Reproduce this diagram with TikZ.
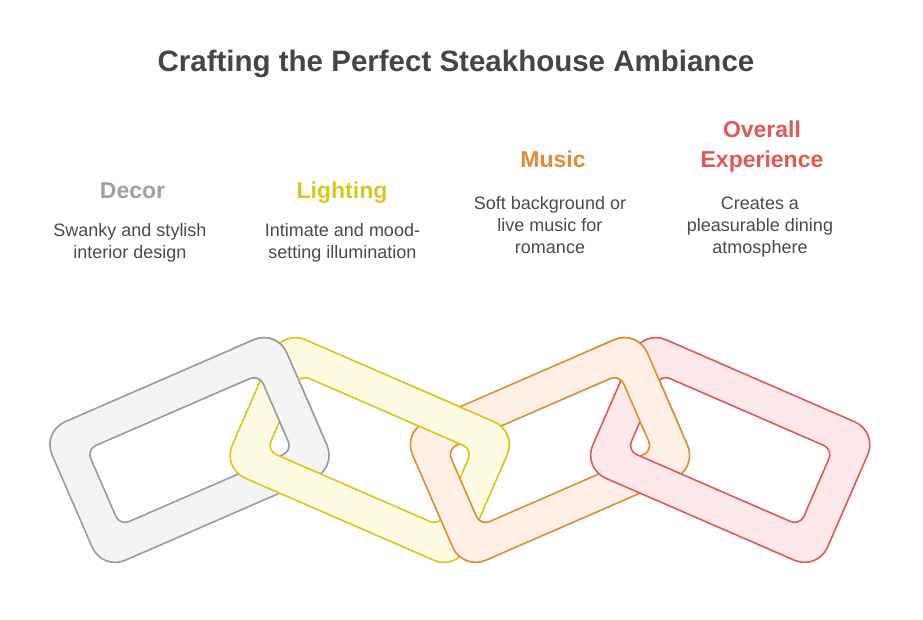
\documentclass[tikz,border=0pt]{standalone}
\usepackage{fontspec}
\setmainfont{Liberation Sans}
\definecolor{titlecol}{HTML}{454545}
\definecolor{desccol}{HTML}{4A4A4A}
\definecolor{grayline}{HTML}{9B9B9B}
\definecolor{grayfill}{HTML}{F4F4F5}
\definecolor{grayhead}{HTML}{A0A0A0}
\definecolor{yelline}{HTML}{D9C61E}
\definecolor{yelfill}{HTML}{FEFCE0}
\definecolor{orline}{HTML}{E08A3A}
\definecolor{orfill}{HTML}{FEF0E5}
\definecolor{redline}{HTML}{E05858}
\definecolor{redfill}{HTML}{FEE9EA}
\newcommand\chainlink[4]{%
  \begin{scope}[shift={(#1,450)}, rotate=#2]
    \path[fill=#3, draw=#4, line width=1.6pt, even odd rule]
      [rounded corners=25pt] (-128,-75.5) rectangle (128,75.5)
      [rounded corners=10pt] (-94,-41.5) rectangle (94,41.5);
  \end{scope}}
\tikzset{
  titletext/.style={anchor=base, font=\bfseries\fontsize{29.5}{35}\selectfont, text=titlecol},
  headtext/.style={anchor=base, align=center, font=\bfseries\fontsize{23}{30}\selectfont},
  desctext/.style={anchor=base, align=center, font=\fontsize{18}{22}\selectfont, text=desccol}
}
\begin{document}
\begin{tikzpicture}[x=1pt,y=-1pt]
\useasboundingbox[fill=white] (0,0) rectangle (923,620);

% title
\node[titletext] (title) at (456,72) {Crafting the Perfect Steakhouse Ambiance};

% headings (anchor = baseline of the last line)
\node[headtext, text=grayhead] (h1) at (132.5,198.3) {Decor};
\node[headtext, text=yelline] (h2) at (342,198.3) {Lighting};
\node[headtext, text=orline] (h3) at (553,167.3) {Music};
\node[headtext, text=redline] (h4) at (762,167.3) {Overall\\Experience};

% descriptions (anchor = baseline of the last line)
\node[desctext] (d1) at (130,258.3) {Swanky and stylish\\interior design};
\node[desctext] (d2) at (342.5,258.3) {Intimate and mood-\\setting illumination};
\node[desctext] (d3) at (550,254) {Soft background or\\live music for\\romance};
\node[desctext] (d4) at (760,254) {Creates a\\pleasurable dining\\atmosphere};

% chain links
\chainlink{189.5}{23.5}{grayfill}{grayline}
\chainlink{369.7}{-23.5}{yelfill}{yelline}
\chainlink{550}{23.5}{orfill}{orline}
\chainlink{730.2}{-23.5}{redfill}{redline}

% interlocking: redraw parts on top
\begin{scope}
  \clip (232,300) rectangle (360,432);
  \chainlink{189.5}{23.5}{grayfill}{grayline}
\end{scope}
\begin{scope}
  \clip (405,300) rectangle (540,468);
  \chainlink{369.7}{-23.5}{yelfill}{yelline}
\end{scope}
\begin{scope}
  \clip (592,300) rectangle (720,432);
  \chainlink{550}{23.5}{orfill}{orline}
\end{scope}
\end{tikzpicture}
\end{document}
